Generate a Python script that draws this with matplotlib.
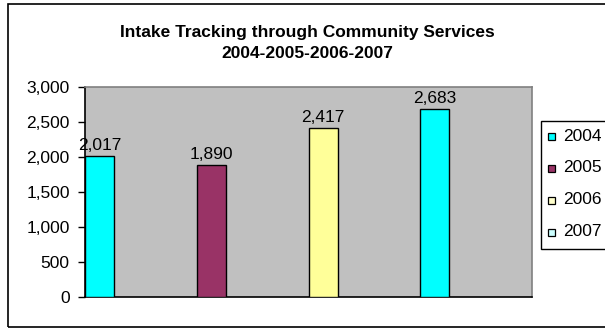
import matplotlib
matplotlib.use("Agg")
import matplotlib.pyplot as plt
from matplotlib.patches import Rectangle
from matplotlib.ticker import FuncFormatter

years = ["2004", "2005", "2006", "2007"]
intakes = [2017, 1890, 2417, 2683]
bar_colors = ["#00FFFF", "#993366", "#FFFF99", "#00FFFF"]
legend_colors = ["#00FFFF", "#993366", "#FFFFCC", "#CCFFFF"]
y_ticks = [0, 500, 1000, 1500, 2000, 2500, 3000]

plt.rcParams["font.family"] = ["Liberation Sans", "DejaVu Sans"]

W, H = 605, 329
fig = plt.figure(figsize=(W / 100, H / 100), dpi=100)
fig.patch.set_facecolor("white")

# outer chart frame (runs off the right edge)
fig.patches.append(Rectangle((8 / W, 1 - 327 / H), 1.2, (327 - 4) / H,
                             transform=fig.transFigure, fill=False,
                             edgecolor="black", linewidth=1.2))

left, right, top, bottom = 85, 532, 87, 297
ax = fig.add_axes([left / W, 1 - bottom / H, (right - left) / W, (bottom - top) / H])
ax.set_facecolor("#C0C0C0")

xs = list(range(len(years)))
bars = ax.bar(xs, intakes, width=0.26, align="edge", color=bar_colors,
              edgecolor="black", linewidth=1.0, zorder=3)
for b, v in zip(bars, intakes):
    ax.text(b.get_x() + b.get_width() / 2, v + 40, f"{v:,}",
            ha="center", va="bottom", fontsize=12.5, color="black")

ax.set_xlim(0, len(years))
ax.set_ylim(0, 3000)
ax.set_yticks(y_ticks)
ax.yaxis.set_major_formatter(FuncFormatter(lambda v, p: f"{int(v):,}"))
ax.set_xticks([])
ax.tick_params(axis="y", direction="out", length=5, width=1, labelsize=12.5, pad=6)

for side in ("top", "right"):
    ax.spines[side].set_color("#808080")
    ax.spines[side].set_linewidth(1.2)
for side in ("left", "bottom"):
    ax.spines[side].set_color("black")
    ax.spines[side].set_linewidth(1.2)

fig.text(307 / W, 1 - 33 / H, "Intake Tracking through Community Services",
         ha="center", va="center", fontsize=12.5, fontweight="bold")
fig.text(307 / W, 1 - 54 / H, "2004-2005-2006-2007",
         ha="center", va="center", fontsize=12.5, fontweight="bold")

# legend box
fig.patches.append(Rectangle((541 / W, 1 - 249 / H), 1.0, (249 - 121) / H,
                             transform=fig.transFigure, facecolor="white",
                             edgecolor="black", linewidth=1.0))
for i, (yr, c) in enumerate(zip(years, legend_colors)):
    yc = 136 + 32 * i
    fig.patches.append(Rectangle((548 / W, 1 - (yc + 3.5) / H), 7 / W, 7 / H,
                                 transform=fig.transFigure, facecolor=c,
                                 edgecolor="black", linewidth=0.9))
    fig.text(563 / W, 1 - yc / H, yr, ha="left", va="center", fontsize=12.5)

fig.savefig("out.png", dpi=100)
